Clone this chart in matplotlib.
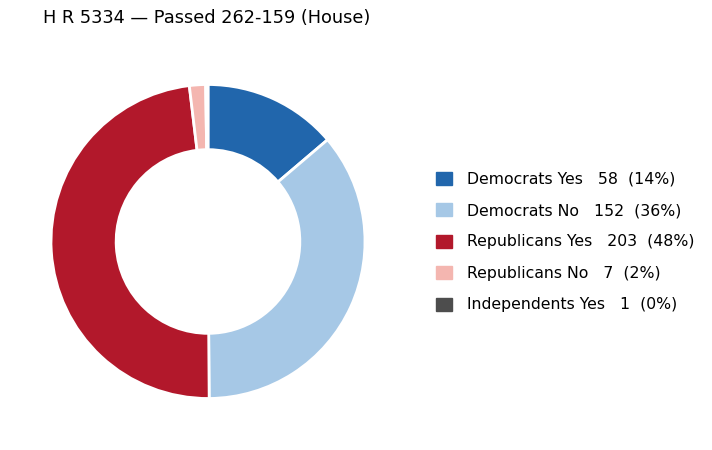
import matplotlib
matplotlib.use("Agg")
import matplotlib.pyplot as plt
from matplotlib.patches import Patch

labels = ["Democrats Yes", "Democrats No", "Republicans Yes", "Republicans No", "Independents Yes"]
values = [58, 152, 203, 7, 1]
colors = ["#2166ac", "#a6c8e6", "#b2182b", "#f4b6b0", "#4d4d4d"]
title = "H R 5334 \u2014 Passed 262-159 (House)"

total = sum(values)
fig = plt.figure(figsize=(7.12, 4.5), dpi=100)
ax = fig.add_axes([51/712, 51/450, 314/712, 315/450])
ax.pie(values, colors=colors, startangle=90, counterclock=False,
       wedgeprops=dict(width=0.415, edgecolor="white", linewidth=2))
ax.set_xlim(-1.0, 1.0)
ax.set_ylim(-1.0, 1.0)
ax.set_aspect("equal")

fig.text(43/712, 1 - 18/450, title, fontsize=12.8, ha="left", va="center")

handles = [Patch(facecolor=c, edgecolor=c) for c in colors]
leg_labels = [f"{l}   {v}  ({round(100*v/total):.0f}%)" for l, v in zip(labels, values)]
fig.legend(handles, leg_labels, loc="center left", bbox_to_anchor=(422/712, 1 - 242/450),
           frameon=False, fontsize=11.3, labelspacing=1.05, handlelength=1.0,
           handleheight=0.9, handletextpad=0.95)

fig.savefig("out.png", dpi=100)
